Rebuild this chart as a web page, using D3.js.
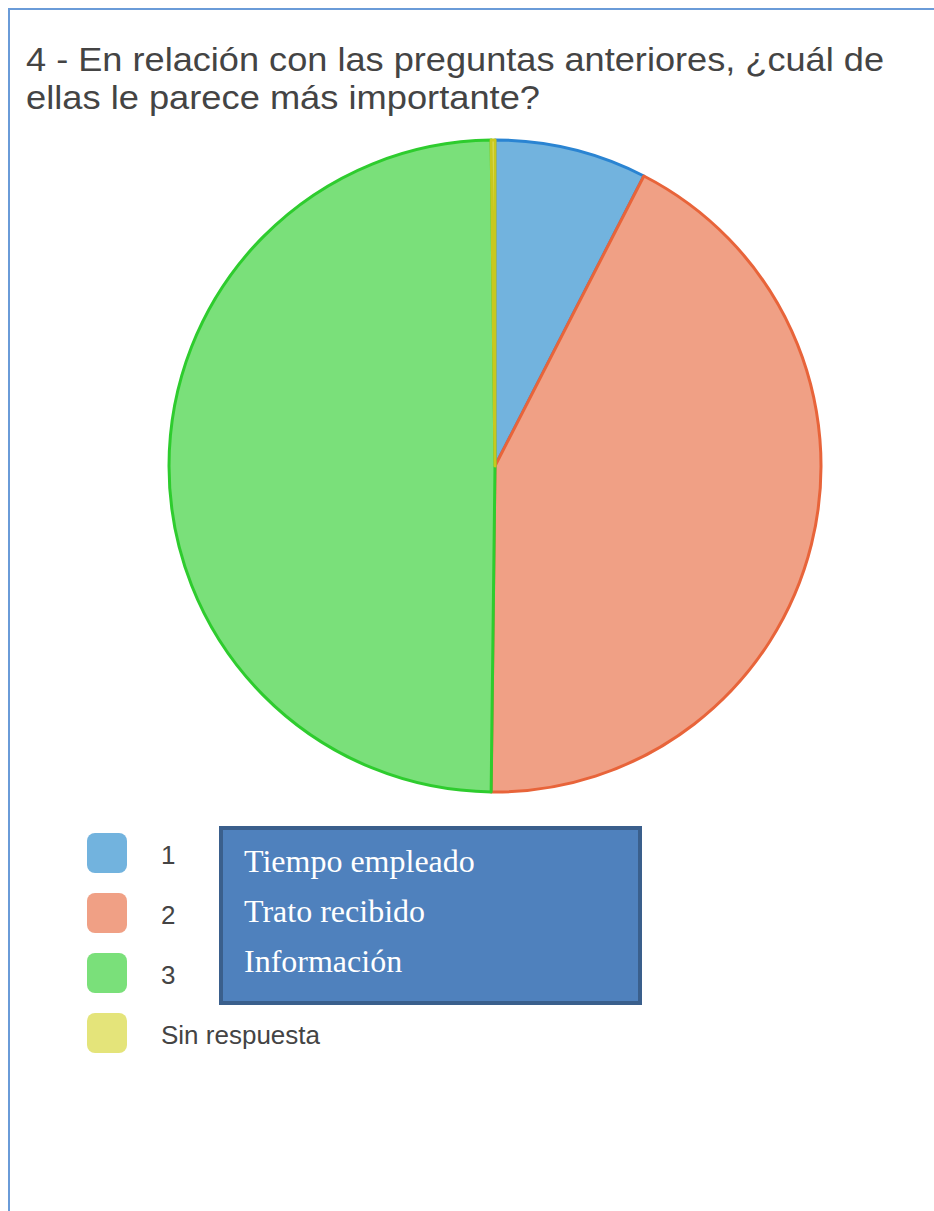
<!DOCTYPE html>
<html lang="es">
<head>
<meta charset="utf-8">
<title>Pregunta 4</title>
<script src="https://cdn.jsdelivr.net/npm/d3@7"></script>
<style>
body { margin: 0; background: #fff; }
text { font-family: "Liberation Sans", Arial, sans-serif; }
.title { font-size: 34px; fill: #444; }
.leg { font-size: 26px; fill: #444; }
.note { font-family: "Liberation Serif", "Times New Roman", serif; font-size: 32px; fill: #fff; }
</style>
</head>
<body>
<script>
// respuestas
var categories = ["1", "2", "3", "Sin respuesta"];
var counts = [40, 226, 263, 1];
var fills = ["#72b3de", "#f0a085", "#7ae07a", "#e4e47a"];
var strokes = ["#2a84d2", "#e8643a", "#2ecc2e", "#c8c81e"];
var titleLines = ["4 - En relación con las preguntas anteriores, ¿cuál de", "ellas le parece más importante?"];
var noteLines = ["Tiempo empleado", "Trato recibido", "Información"];

var w = 934, h = 1211;
var svg = d3.select("body").append("svg")
    .attr("width", w)
    .attr("height", h);

// frame (only left and top visible)
svg.append("path")
    .attr("d", "M9,1211V9H934")
    .attr("fill", "none")
    .attr("stroke", "#6a9bd8")
    .attr("stroke-width", 2);

svg.selectAll(".title").data(titleLines).enter()
  .append("text")
    .attr("class", "title")
    .attr("x", 26)
    .attr("y", function(d, i) { return 71 + i * 38; })
    .attr("textLength", function(d, i) { return i == 0 ? 858 : 514; })
    .attr("lengthAdjust", "spacingAndGlyphs")
    .text(function(d) { return d; });

// pie
var cx = 495, cy = 466, r = 326;
var pie = d3.pie().sort(null).value(function(d) { return d; });
var arc = d3.arc().innerRadius(0).outerRadius(r);
var color = d3.scaleOrdinal().domain(d3.range(categories.length)).range(fills);
var edge = d3.scaleOrdinal().domain(d3.range(categories.length)).range(strokes);

svg.append("g")
    .attr("transform", "translate(" + cx + "," + cy + ")")
  .selectAll("path")
  .data(pie(counts))
  .enter().append("path")
    .attr("d", arc)
    .attr("fill", function(d, i) { return color(i); })
    .attr("stroke", function(d, i) { return edge(i); })
    .attr("stroke-width", 3)
    .attr("stroke-linejoin", "round");

// legend
var leg = svg.append("g");
var row = leg.selectAll("g").data(categories).enter().append("g")
    .attr("transform", function(d, i) { return "translate(87," + (833 + i * 60) + ")"; });
row.append("rect")
    .attr("width", 40).attr("height", 40)
    .attr("rx", 8).attr("ry", 8)
    .attr("fill", function(d, i) { return color(i); });
row.append("text")
    .attr("class", "leg")
    .attr("x", 74)
    .attr("y", 31)
    .text(function(d) { return d; });

// text box over the legend
svg.append("rect")
    .attr("x", 221).attr("y", 828)
    .attr("width", 419).attr("height", 175)
    .attr("fill", "#4f81bd")
    .attr("stroke", "#3a5f8c")
    .attr("stroke-width", 4);

svg.selectAll(".note").data(noteLines).enter()
  .append("text")
    .attr("class", "note")
    .attr("x", 244)
    .attr("y", function(d, i) { return 872 + i * 50; })
    .text(function(d) { return d; });
</script>
</body>
</html>
